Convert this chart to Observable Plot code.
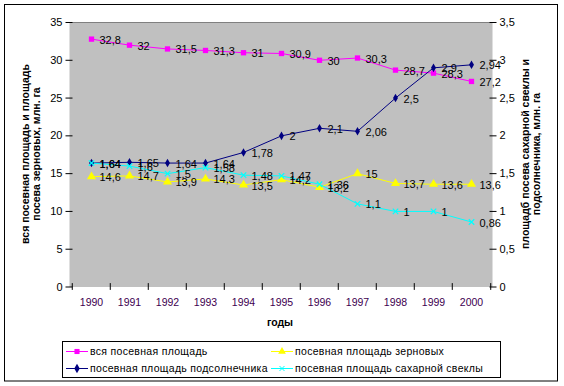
<!DOCTYPE html>
<html>
<head>
<meta charset="utf-8">
<script src="https://cdn.jsdelivr.net/npm/d3@7"></script>
<script src="https://cdn.jsdelivr.net/npm/@observablehq/plot@0.6"></script>
<style>
  html, body { margin: 0; padding: 0; background: #fff; }
  svg { display: block; }
</style>
</head>
<body>
<div id="chart"></div>
<script>
const years = [1990, 1991, 1992, 1993, 1994, 1995, 1996, 1997, 1998, 1999, 2000];
const totalArea = [32.8, 32, 31.5, 31.3, 31, 30.9, 30, 30.3, 28.7, 28.3, 27.2];
const grainArea = [14.6, 14.7, 13.9, 14.3, 13.5, 14.2, 13.2, 15, 13.7, 13.6, 13.6];
const sunflowerArea = [1.64, 1.65, 1.64, 1.64, 1.78, 2, 2.1, 2.06, 2.5, 2.9, 2.94];
const beetArea = [1.64, 1.6, 1.5, 1.58, 1.48, 1.47, 1.36, 1.1, 1, 1, 0.86];
const leftTicks = [0, 5, 10, 15, 20, 25, 30, 35];
const rightTicks = [0, 0.5, 1, 1.5, 2, 2.5, 3, 3.5];
const seriesNames = ["вся посевная площадь", "посевная площадь зерновых", "посевная площадь подсолнечника", "посевная площадь сахарной свеклы"];
const leftTitle = ["вся посевная площадь и площадь", "посева зерновых, млн. га"];
const rightTitle = ["площадб посева сахарной свеклы и", "подсолнечника, млн. га"];
const xTitle = "годы";

const ratio = 10; // right axis 3.5 <-> left axis 35
const fmt = v => String(v).replace(".", ",");

const series = [
  {name: seriesNames[0], values: totalArea, axis: "left", color: "#ff00ff", symbol: "square", r: 3},
  {name: seriesNames[1], values: grainArea, axis: "left", color: "#ffff00", symbol: "triangle", r: 3.4},
  {name: seriesNames[2], values: sunflowerArea, axis: "right", color: "#000080", symbol: "diamond", r: 2.6},
  {name: seriesNames[3], values: beetArea, axis: "right", color: "#00ffff", symbol: "times", r: 2.6}
];
const rows = series.flatMap(s => s.values.map((v, i) => ({
  series: s.name, year: years[i], value: v, y: s.axis === "right" ? v * ratio : v
})));

const font = "'Liberation Sans', Arial, sans-serif";
const W = 564, H = 386;
const mL = 69, mR = 72, mT = 22, mB = 99.5;

const marks = [
  Plot.frame({fill: "#c0c0c0"}),
  Plot.ruleY([35], {stroke: "#808080"}),
  Plot.axisY({ticks: leftTicks, tickSize: 7, dx: 3.5, tickFormat: () => "", stroke: "#000", label: null}),
  Plot.axisY({ticks: leftTicks, tickSize: 0, tickPadding: 7, tickFormat: fmt, fontSize: 11, fill: "#000", line: true, label: null}),
  Plot.axisY({anchor: "right", ticks: leftTicks, tickSize: 7, dx: -3.5, tickFormat: () => "", stroke: "#000", label: null}),
  Plot.axisY({anchor: "right", ticks: leftTicks, tickSize: 0, tickPadding: 7, tickFormat: d => fmt(d / ratio), fontSize: 11, fill: "#000", line: true, label: null}),
  Plot.axisX({tickSize: 0, tickPadding: 12, tickFormat: d => String(d), fontSize: 10.5, fill: "#400050", line: true, label: null}),
  Plot.ruleX(years, {x: d => d, dx: -19.23, y1: -0.45, y2: 0.45, stroke: "#000"}),
  Plot.ruleX([years[years.length - 1]], {x: d => d, dx: 19.23, y1: -0.45, y2: 0.45, stroke: "#000"})
];
series.forEach(s => {
  const d = rows.filter(r => r.series === s.name);
  marks.push(Plot.line(d, {x: "year", y: "y", stroke: s.color, strokeWidth: 1}));
});
series.forEach(s => {
  const d = rows.filter(r => r.series === s.name);
  const filled = s.symbol !== "times";
  marks.push(Plot.dot(d, {x: "year", y: "y", symbol: s.symbol, r: s.r,
    fill: filled ? s.color : "none", stroke: s.color, strokeWidth: filled ? 0 : 1.2}));
});
series.forEach(s => {
  const d = rows.filter(r => r.series === s.name);
  marks.push(Plot.text(d, {x: "year", y: "y", text: r => fmt(r.value), dx: 8, dy: 1,
    textAnchor: "start", fontSize: 11, fill: "#000"}));
});

const chart = Plot.plot({
  width: W, height: H,
  marginLeft: mL, marginRight: mR, marginTop: mT, marginBottom: mB,
  style: {fontFamily: font, background: "#fff", overflow: "visible"},
  x: {type: "point", domain: years, padding: 0.5, axis: null},
  y: {domain: [0, 35], axis: null},
  marks
});

const svg = d3.select(chart);
// outer border
svg.append("rect").attr("x", 4.5).attr("y", 4.5).attr("width", 553).attr("height", 376.5)
  .attr("fill", "none").attr("stroke", "#000");
// axis titles
const lt = svg.append("text").attr("transform", "translate(31,154) rotate(-90)")
  .attr("text-anchor", "middle").attr("font-family", font).attr("font-size", 10.5).attr("font-weight", "bold");
leftTitle.forEach((t, i) => lt.append("tspan").attr("x", 0).attr("dy", i === 0 ? "-0.2em" : "1.1em").text(t));
const rt = svg.append("text").attr("transform", "translate(531,154) rotate(-90)")
  .attr("text-anchor", "middle").attr("font-family", font).attr("font-size", 10.5).attr("font-weight", "bold");
rightTitle.forEach((t, i) => rt.append("tspan").attr("x", 0).attr("dy", i === 0 ? "-0.2em" : "1.1em").text(t));
svg.append("text").attr("x", 280).attr("y", 326).attr("text-anchor", "middle")
  .attr("font-family", font).attr("font-size", 10.5).attr("font-weight", "bold").text(xTitle);

// legend
const lg = svg.append("g").attr("text-anchor", "start");
lg.append("rect").attr("x", 62.5).attr("y", 341.5).attr("width", 438).attr("height", 36)
  .attr("fill", "#fff").attr("stroke", "#000");
const pos = [[66, 351], [271, 351], [66, 368], [271, 368]];
const symTypes = {square: d3.symbolSquare, triangle: d3.symbolTriangle, diamond: d3.symbolDiamond, times: d3.symbolTimes};
series.forEach((s, k) => {
  const [x, y] = pos[k];
  lg.append("line").attr("x1", x).attr("x2", x + 22).attr("y1", y + 0.5).attr("y2", y + 0.5)
    .attr("stroke", s.color).attr("stroke-width", 1);
  const sym = d3.symbol().type(symTypes[s.symbol]).size(s.symbol === "times" ? 18 : 26)();
  lg.append("path").attr("d", sym).attr("transform", `translate(${x + 11},${y + 0.5})`)
    .attr("fill", s.symbol === "times" ? "none" : s.color).attr("stroke", s.symbol === "times" ? s.color : "none");
  lg.append("text").attr("x", x + 24).attr("y", y).attr("dy", "0.35em").attr("text-anchor", "start")
    .attr("font-family", font).attr("font-size", 10.5).attr("letter-spacing", 0.3).attr("fill", "#000").text(s.name);
});

document.getElementById("chart").appendChild(chart);
</script>
</body>
</html>
